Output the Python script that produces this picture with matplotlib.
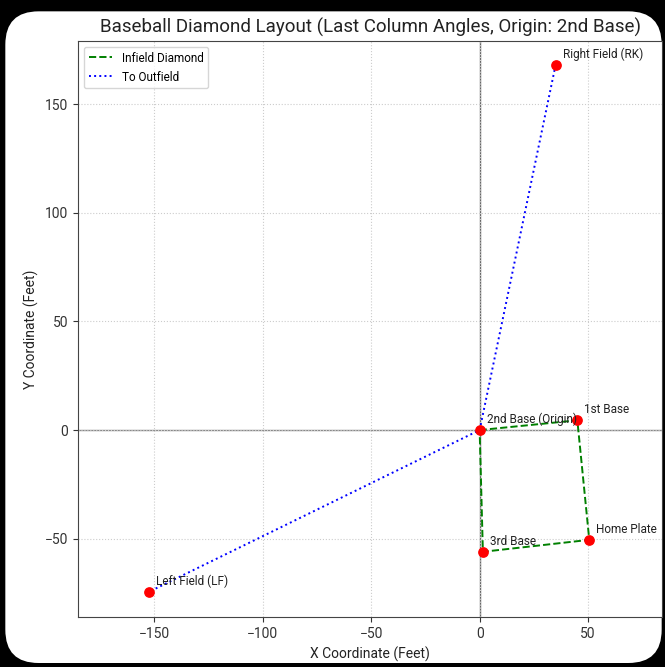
import matplotlib.pyplot as plt
from matplotlib.patches import FancyBboxPatch

plt.rcParams["font.family"] = ["Roboto", "DejaVu Sans"]

# base positions in feet (origin at 2nd base)
names = ["2nd Base (Origin)", "1st Base", "Home Plate", "3rd Base", "Right Field (RK)", "Left Field (LF)"]
xs = [0.0, 45.0, 50.5, 1.5, 35.0, -152.5]
ys = [0.0, 4.5, -50.5, -56.0, 168.0, -74.5]

infield_order = [0, 1, 2, 3, 0]
outfield_order = [4, 0, 5]

fig = plt.figure(figsize=(6.65, 6.67), dpi=100, facecolor="black")
card = FancyBboxPatch((0.008, 0.006), 0.987, 0.977, boxstyle="round,pad=0,rounding_size=0.05",
                      transform=fig.transFigure, facecolor="white", edgecolor="none", zorder=-10)
fig.add_artist(card)

ax = fig.add_axes([78 / 665, 50 / 667, 584 / 665, 576 / 667])
ax.set_facecolor("white")
for sp in ax.spines.values():
    sp.set_color("#444444")

ax.axhline(0, color="#888888", lw=1, zorder=1)
ax.axvline(0, color="#666666", lw=1, zorder=1)

ax.plot([xs[i] for i in infield_order], [ys[i] for i in infield_order],
        color="green", ls="--", lw=1.4, label="Infield Diamond", zorder=2)
ax.plot([xs[i] for i in outfield_order], [ys[i] for i in outfield_order],
        color="blue", ls=":", lw=1.4, label="To Outfield", zorder=2)
ax.scatter(xs, ys, color="red", s=45, zorder=3)

for name, x, y in zip(names, xs, ys):
    ax.annotate(name, (x, y), xytext=(5, 5), textcoords="offset points", fontsize=8.5, color="#222222")

ax.set_xlim(-185, 84)
ax.set_ylim(-86, 179)
ax.grid(True, ls=":", color="#cccccc", lw=0.8)
ax.set_xticks([-150, -100, -50, 0, 50])
ax.set_yticks([-50, 0, 50, 100, 150])
ax.tick_params(labelsize=10, colors="#333333")
ax.set_xlabel("X Coordinate (Feet)", fontsize=10, color="#222222")
ax.set_ylabel("Y Coordinate (Feet)", fontsize=10, color="#222222")
ax.set_title("Baseball Diamond Layout (Last Column Angles, Origin: 2nd Base)", fontsize=13.5, color="#222222")
ax.legend(loc="upper left", fontsize=8.5)

fig.savefig("out.png", dpi=100, facecolor="black")
